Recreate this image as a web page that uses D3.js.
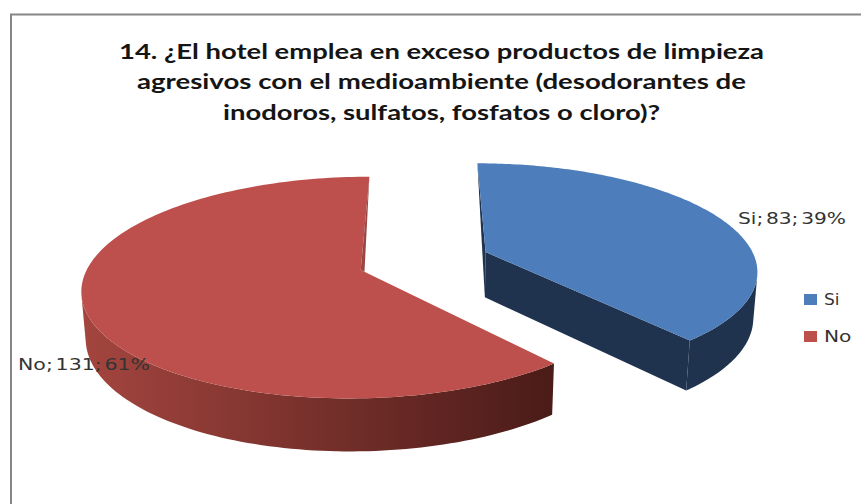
<!DOCTYPE html>
<html lang="es">
<head>
<meta charset="utf-8">
<title>Productos de limpieza agresivos</title>
<script src="https://cdn.jsdelivr.net/npm/d3@7/dist/d3.min.js"></script>
<style>
  html, body { margin: 0; padding: 0; background: #fff; }
  svg { display: block; }
</style>
</head>
<body>
<svg id="chart" width="861" height="504"></svg>
<script>
// Chart content
const categories = ["Si", "No"];
const values = [83, 131];
const titleLines = [
  "14. ¿El hotel emplea en exceso productos de limpieza",
  "agresivos con el medioambiente (desodorantes de",
  "inodoros, sulfatos, fosfatos o cloro)?"
];

// Slice colours: top face, then wall shades
const faceColors = ["#4d7ebb", "#bd504c"];
const wallColors = ["#1f334f", "#9a4643"];
const rimStops = ["#a4453f", "#4a1b18"];

// Camera for the tilted pie; the disc has radius 1 in world units
const tilt = 22.9 * Math.PI / 180;
const sinT = Math.sin(tilt), cosT = Math.cos(tilt);
const focal = 1590, dist = 5.88;
const originX = 424, originY = 260.9;
const depth = 0.186;     // thickness of the disc
const explode = 0.246;   // distance each slice is pulled from the middle

function project(x, y, z) {
  const d = dist - z * cosT - y * sinT;
  const up = y * cosT - z * sinT;
  return [originX + focal * x / d, originY - focal * up / d];
}

const svg = d3.select("#chart");
const defs = svg.append("defs");
const closed = d3.line().curve(d3.curveLinearClosed);
const total = d3.sum(values);
const slices = d3.pie().sort(null).value(d => d)(values);

// Chart frame: only the top and left edges fall inside the page
svg.append("path")
  .attr("d", "M11,504V14.5H861")
  .attr("fill", "none")
  .attr("stroke", "#868686")
  .attr("stroke-width", 2);

function sliceGeometry(s) {
  const mid = (s.startAngle + s.endAngle) / 2;
  const cx = explode * Math.sin(mid);
  const cz = -explode * Math.cos(mid);
  const rim = t => [cx + Math.sin(t), cz - Math.cos(t)];
  const n = 160;
  const angle = d3.scaleLinear().domain([0, n]).range([s.startAngle, s.endAngle]);
  const angles = d3.range(n + 1).map(angle);
  return { cx, cz, rim, angles };
}

function facesCamera(g, t) {
  const [px, pz] = g.rim(t);
  return -px * Math.sin(t) - (dist * cosT - pz) * Math.cos(t) > 0;
}

slices.forEach((s, i) => {
  const g = sliceGeometry(s);
  const top = ([x, z]) => project(x, 0, z);
  const low = ([x, z]) => project(x, -depth, z);
  const topArc = g.angles.map(t => top(g.rim(t)));
  const front = g.angles.filter(t => facesCamera(g, t));
  const frontTop = front.map(t => top(g.rim(t)));
  const frontLow = front.map(t => low(g.rim(t)));

  // Outer wall of the disc
  let rimFill = wallColors[0];
  if (i === 1) {
    const xs = frontTop.map(p => p[0]);
    const grad = defs.append("linearGradient")
      .attr("id", "rimShade")
      .attr("gradientUnits", "userSpaceOnUse")
      .attr("x1", d3.min(xs)).attr("x2", d3.max(xs))
      .attr("y1", 0).attr("y2", 0);
    grad.append("stop").attr("offset", 0).attr("stop-color", rimStops[0]);
    grad.append("stop").attr("offset", 1).attr("stop-color", rimStops[1]);
    rimFill = "url(#rimShade)";
  }
  svg.append("path")
    .attr("d", closed(frontTop.concat(frontLow.reverse())))
    .attr("fill", rimFill);

  const centre = [g.cx, g.cz];
  if (i === 0) {
    // Cut faces of the pulled-out slice
    const endRim = g.rim(s.endAngle), startRim = g.rim(s.startAngle);
    svg.append("path")
      .attr("d", closed([top(centre), top(endRim), low(endRim), low(centre)]))
      .attr("fill", wallColors[0]);
    svg.append("path")
      .attr("d", closed([top(startRim), top(centre), low(centre)]))
      .attr("fill", wallColors[0]);
  }

  // Top face
  svg.append("path")
    .attr("d", closed([top(centre)].concat(topArc)))
    .attr("fill", faceColors[i]);

  if (i === 1) {
    // Thin lit edge along the back cut of the larger slice
    const step = 0.022;
    const nearCentre = [
      g.cx + step * Math.sin(s.startAngle),
      g.cz - step * Math.cos(s.startAngle)
    ];
    svg.append("path")
      .attr("d", closed([top(g.rim(s.endAngle)), top(centre), top(nearCentre)]))
      .attr("fill", wallColors[1]);
  }
});

// Title
const titleBaselines = [59, 89, 120];
const titleWidths = [645, 609, 437];
svg.append("g").selectAll("text").data(titleLines).join("text")
  .attr("x", 441.5)
  .attr("y", (d, i) => titleBaselines[i])
  .attr("text-anchor", "middle")
  .attr("font-family", "Lato, sans-serif")
  .attr("font-weight", 700)
  .attr("font-size", 21)
  .attr("fill", "#151515")
  .attr("textLength", (d, i) => titleWidths[i])
  .attr("lengthAdjust", "spacingAndGlyphs")
  .text(d => d);

// Data labels: category; value; share
const labelText = i => `${categories[i]}; ${values[i]}; ${Math.round(values[i] / total * 100)}%`;
const labelPlace = [
  { x: 738, y: 224, w: 108 },
  { x: 18, y: 370, w: 132 }
];
svg.append("g").selectAll("text").data(categories).join("text")
  .attr("x", (d, i) => labelPlace[i].x)
  .attr("y", (d, i) => labelPlace[i].y)
  .attr("font-family", "'DejaVu Sans', sans-serif")
  .attr("font-size", 16.5)
  .attr("word-spacing", -3)
  .attr("fill", "#333")
  .attr("textLength", (d, i) => labelPlace[i].w)
  .attr("lengthAdjust", "spacingAndGlyphs")
  .text((d, i) => labelText(i));

// Legend
const legendY = d3.scalePoint().domain(categories).range([294, 331]);
const legendWidths = [15.5, 27.5];
const legend = svg.append("g").selectAll("g").data(categories).join("g")
  .attr("transform", d => `translate(804,${legendY(d)})`);
legend.append("rect")
  .attr("width", 13).attr("height", 11)
  .attr("fill", (d, i) => faceColors[i]);
legend.append("text")
  .attr("x", 20).attr("y", 11.3)
  .attr("font-family", "'DejaVu Sans', sans-serif")
  .attr("font-size", 16.5)
  .attr("fill", "#333")
  .attr("textLength", (d, i) => legendWidths[i])
  .attr("lengthAdjust", "spacingAndGlyphs")
  .text(d => d);
</script>
</body>
</html>
